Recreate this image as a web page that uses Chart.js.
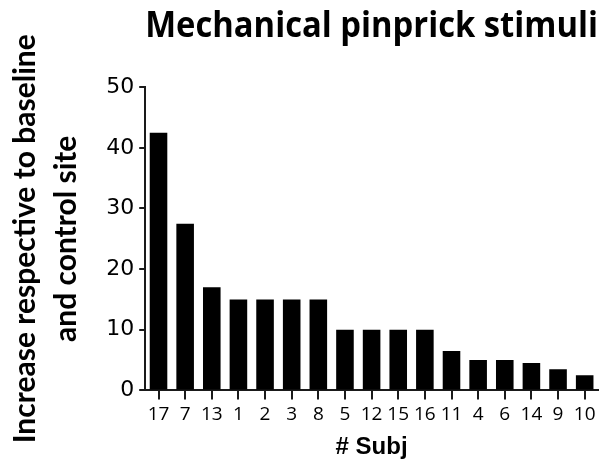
<!DOCTYPE html>
<html>
<head>
<meta charset="utf-8">
<script src="https://cdn.jsdelivr.net/npm/chart.js@4"></script>
<style>
  html, body { margin: 0; padding: 0; background: #fff; }
  #wrap { width: 616px; height: 466px; }
</style>
</head>
<body>
<div id="wrap"><canvas id="chart" width="616" height="466"></canvas></div>
<script>
// values
let subjects = ["17", "7", "13", "1", "2", "3", "8", "5", "12", "15", "16", "11", "4", "6", "14", "9", "10"];
let increase = [42.5, 27.5, 17, 15, 15, 15, 15, 10, 10, 10, 10, 6.5, 5, 5, 4.5, 3.5, 2.5];
let yTicks = [0, 10, 20, 30, 40, 50];

let axisColor = "#1a1a1a";

let ctx = document.getElementById("chart").getContext("2d");
let chart = new Chart(ctx, {
    type: "bar",
    data: {
        labels: subjects,
        datasets: [{
            data: increase,
            backgroundColor: "#000",
            borderWidth: 0,
            categoryPercentage: 0.66,
            barPercentage: 1
        }]
    },
    options: {
        responsive: false,
        animation: false,
        layout: { padding: { top: 0, right: 18, bottom: 4, left: 4 } },
        plugins: {
            legend: { display: false },
            tooltip: { enabled: false },
            title: {
                display: true,
                text: "Mechanical pinprick stimuli",
                fullSize: false,
                color: "#000",
                font: { family: "Open Sans", size: 36, weight: "bold" },
                padding: { top: 5, bottom: 39 }
            }
        },
        scales: {
            x: {
                offset: true,
                border: { color: axisColor, width: 2 },
                grid: { display: true, drawOnChartArea: false, offset: false, color: axisColor, lineWidth: 2, tickLength: 9 },
                ticks: { color: "#000", padding: 4, font: { family: "Open Sans", size: 19 }, maxRotation: 0, autoSkip: false },
                title: {
                    display: true,
                    text: "# Subj",
                    color: "#000",
                    font: { family: "Liberation Sans", size: 24, weight: "bold" },
                    padding: { top: 3, bottom: 0 }
                }
            },
            y: {
                min: 0,
                max: 50,
                afterBuildTicks: (axis) => { axis.ticks = yTicks.map(v => ({ value: v })); },
                border: { color: axisColor, width: 2 },
                grid: { display: true, drawOnChartArea: false, color: axisColor, lineWidth: 2, tickLength: 6 },
                ticks: { color: "#000", padding: 5, font: { family: "DejaVu Sans", size: 22 } },
                title: {
                    display: true,
                    text: ["Increase respective to baseline", "and control site"],
                    color: "#000",
                    font: { family: "Lato", size: 30, weight: "bold", lineHeight: 1.37 },
                    padding: { top: 1, bottom: 14 }
                }
            }
        }
    }
});
</script>
</body>
</html>
